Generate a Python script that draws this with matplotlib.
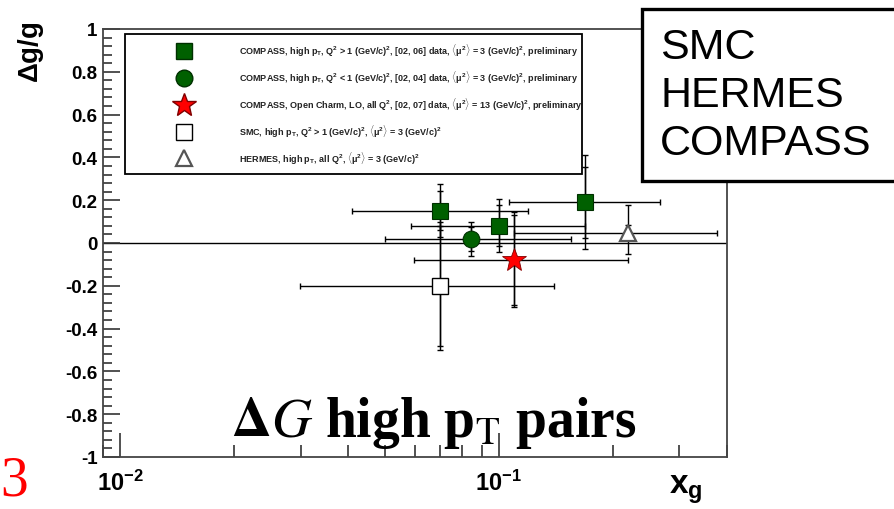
import math
import matplotlib
matplotlib.use("Agg")
import matplotlib.pyplot as plt
from matplotlib.lines import Line2D
from matplotlib.patches import Rectangle
from matplotlib.ticker import MultipleLocator, LogLocator, FuncFormatter, NullFormatter

plt.rcParams["font.family"] = ["Liberation Sans", "DejaVu Sans"]
plt.rcParams["mathtext.fontset"] = "custom"
plt.rcParams["mathtext.rm"] = "Liberation Sans:bold"
plt.rcParams["mathtext.bf"] = "Liberation Sans:bold"
plt.rcParams["mathtext.it"] = "Liberation Sans:bold"
plt.rcParams["mathtext.default"] = "bf"

# COMPASS, high pT, Q2 > 1, 2002-2006 (three x_g bins)
hi_x = [0.070, 0.100, 0.169]
hi_y = [0.151, 0.081, 0.190]
hi_xlo = [0.041, 0.0587, 0.1067]
hi_xhi = [0.1195, 0.169, 0.2667]
hi_stat = [0.09, 0.097, 0.165]
hi_tot = [0.125, 0.125, 0.22]

# COMPASS, high pT, Q2 < 1, 2002-2004
lo_x = [0.0845]
lo_y = [0.019]
lo_xlo = [0.050]
lo_xhi = [0.155]
lo_stat = [0.058]
lo_tot = [0.079]

# COMPASS, open charm, LO
oc_x = [0.110]
oc_y = [-0.078]
oc_xlo = [0.0597]
oc_xhi = [0.219]
oc_stat = [0.21]
oc_tot = [0.222]

# SMC, high pT
smc_x = [0.070]
smc_y = [-0.20]
smc_xlo = [0.0299]
smc_xhi = [0.1396]
smc_stat = [0.28]
smc_tot = [0.30]

# HERMES, high pT, all Q2
her_x = [0.22]
her_y = [0.049]
her_xlo = [0.110]
her_xhi = [0.376]
her_stat = [0.034]
her_tot_up = [0.13]
her_tot_dn = [0.10]

labels = [
    r"COMPASS, high p$_\mathrm{T}$, Q$^2$ > 1 (GeV/c)$^2$, [02, 06] data, $\langle\mu^2\rangle$ = 3 (GeV/c)$^2$, preliminary",
    r"COMPASS, high p$_\mathrm{T}$, Q$^2$ < 1 (GeV/c)$^2$, [02, 04] data, $\langle\mu^2\rangle$ = 3 (GeV/c)$^2$, preliminary",
    r"COMPASS, Open Charm, LO, all Q$^2$, [02, 07] data, $\langle\mu^2\rangle$ = 13 (GeV/c)$^2$, preliminary",
    r"SMC, high p$_\mathrm{T}$, Q$^2$ > 1 (GeV/c)$^2$, $\langle\mu^2\rangle$ = 3 (GeV/c)$^2$",
    r"HERMES, high p$_\mathrm{T}$, all Q$^2$, $\langle\mu^2\rangle$ = 3 (GeV/c)$^2$",
]

green = "#006000"
W, H = 894, 510

fig = plt.figure(figsize=(W / 100, H / 100), dpi=100)
ax = fig.add_axes([103 / W, 52 / H, 623.7 / W, 428 / H])


def draw(x, y, xlo, xhi, stat, tot_dn, tot_up, marker, ms, face, edge, mew):
    xerr = [[a - b for a, b in zip(x, xlo)], [b - a for a, b in zip(x, xhi)]]
    eb = dict(fmt="none", ecolor="black", elinewidth=1.0, capsize=2.2, capthick=1.0, zorder=2)
    ax.errorbar(x, y, xerr=xerr, yerr=[tot_dn, tot_up], **eb)
    ax.errorbar(x, y, yerr=stat, **eb)
    ax.plot(x, y, ls="none", marker=marker, ms=ms, mfc=face, mec=edge, mew=mew, zorder=3)


draw(hi_x, hi_y, hi_xlo, hi_xhi, hi_stat, hi_tot, hi_tot, "s", 12, green, "#003000", 0.8)
draw(lo_x, lo_y, lo_xlo, lo_xhi, lo_stat, lo_tot, lo_tot, "o", 12, green, "#003000", 0.8)
draw(oc_x, oc_y, oc_xlo, oc_xhi, oc_stat, oc_tot, oc_tot, "*", 18, "#ff0000", "#800000", 0.6)
draw(smc_x, smc_y, smc_xlo, smc_xhi, smc_stat, smc_tot, smc_tot, "s", 12, "white", "black", 1.0)
draw(her_x, her_y, her_xlo, her_xhi, her_stat, her_tot_dn, her_tot_up, "^", 11, "white", "#555555", 1.6)

ax.axhline(0, color="black", lw=1.0, zorder=1)

ax.set_xscale("log")
ax.set_xlim(0.009, 0.4)
ax.set_ylim(-1, 1)

ax.xaxis.set_major_locator(LogLocator(base=10))
ax.xaxis.set_minor_locator(LogLocator(base=10, subs=range(2, 10)))
ax.xaxis.set_minor_formatter(NullFormatter())
ax.xaxis.set_major_formatter(FuncFormatter(lambda v, p: r"$\mathbf{10^{%d}}$" % round(math.log10(v))))
ax.yaxis.set_major_locator(MultipleLocator(0.2))
ax.yaxis.set_minor_locator(MultipleLocator(0.04))
ax.yaxis.set_major_formatter(FuncFormatter(lambda v, p: "%g" % round(v, 2)))

ax.tick_params(which="both", direction="in", top=False, right=False, width=1.2, color="#333333")
ax.tick_params(axis="x", which="major", length=17, pad=9, labelsize=17)
ax.tick_params(axis="x", which="minor", length=8.6)
ax.tick_params(axis="y", which="major", length=12, pad=4, labelsize=13.5)
ax.tick_params(axis="y", which="minor", length=6.5)
for lab in ax.get_yticklabels():
    lab.set_fontweight("bold")
for s in ax.spines.values():
    s.set_color("#444444")
    s.set_linewidth(1.3)

fig.text(31 / W, 1 - 52 / H, r"$\Delta$g/g", rotation=90, ha="center", va="center",
         fontsize=20, fontweight="bold")
fig.text(686 / W, 1 - 490 / H, r"x$_\mathbf{g}$", ha="center", va="center",
         fontsize=24, fontweight="bold")

handles = [
    Line2D([], [], ls="none", marker="s", ms=12, mfc=green, mec="#003000"),
    Line2D([], [], ls="none", marker="o", ms=12, mfc=green, mec="#003000"),
    Line2D([], [], ls="none", marker="*", ms=18, mfc="#ff0000", mec="#800000"),
    Line2D([], [], ls="none", marker="s", ms=12, mfc="white", mec="black"),
    Line2D([], [], ls="none", marker="^", ms=11, mfc="white", mec="#555555", mew=1.6),
]
leg = ax.legend(handles, labels, loc="upper left",
                bbox_to_anchor=(125 / W, 1 - 173.3 / H, (581.7 - 125) / W, (173.3 - 35) / H),
                bbox_transform=fig.transFigure, mode="expand", borderaxespad=0,
                fontsize=6.5, frameon=True, fancybox=False, framealpha=1,
                edgecolor="black", handlelength=11.2, handletextpad=0.5,
                borderpad=0.9, labelspacing=1.2, numpoints=1)
leg.get_frame().set_linewidth(1.3)
for t in leg.get_texts():
    t.set_fontweight("bold")
    t.set_color("#222222")

fig.text(434 / W, 1 - 437 / H, r"$\Delta\mathit{G}$ high p$_\mathrm{T}$ pairs", ha="center",
         va="baseline", fontsize=40, fontweight="bold", family="Liberation Serif",
         math_fontfamily="stix")

box = Rectangle((641.7 / W, 1 - 181.7 / H), 300 / W, 171.7 / H, transform=fig.transFigure,
                facecolor="white", edgecolor="black", lw=2.4, zorder=5, clip_on=False)
fig.patches.append(box)
fig.text(660 / W, 1 - 96 / H, "SMC\nHERMES\nCOMPASS", ha="left", va="center",
         fontsize=31, linespacing=1.25, zorder=6)

fig.text(0 / W, 1 - 482 / H, "3", ha="left", va="center", color="red",
         fontsize=40, family="Liberation Serif")

fig.savefig("out.png", dpi=100, facecolor="white")
